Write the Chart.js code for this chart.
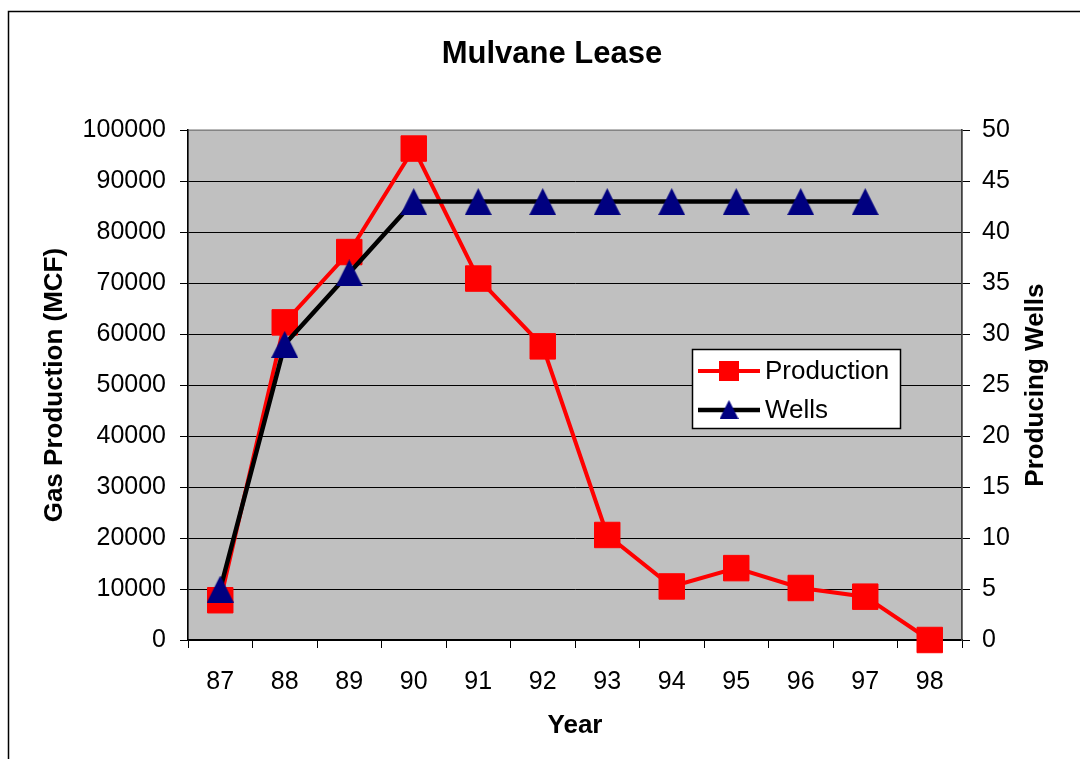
<!DOCTYPE html>
<html>
<head>
<meta charset="utf-8">
<title>Mulvane Lease</title>
<script src="https://cdn.jsdelivr.net/npm/chart.js@4.4.1/dist/chart.umd.min.js"></script>
<style>
  html, body { margin: 0; padding: 0; background: #fff; }
  #wrap { width: 1080px; height: 759px; }
</style>
</head>
<body>
<div id="wrap"><canvas id="lease-chart" width="1080" height="759"></canvas></div>
<script>
// values
const years = ['87', '88', '89', '90', '91', '92', '93', '94', '95', '96', '97', '98'];
const productionMCF = [7800, 62300, 76100, 96400, 70900, 57600, 20600, 10500, 14100, 10200, 8500, 0];
const producingWells = [5, 29, 36, 43, 43, 43, 43, 43, 43, 43, 43, null];

const gasMax = 100000, gasStep = 10000;
const wellsMax = 50, wellsStep = 5;

const chartTitle = 'Mulvane Lease';
const leftTitle = 'Gas Production (MCF)';
const rightTitle = 'Producing Wells';
const xTitle = 'Year';

const FONT = "'Liberation Sans', Arial, Helvetica, sans-serif";
Chart.defaults.font.family = FONT;
Chart.defaults.color = '#000';

// navy triangle marker, centred on the point (the built-in one sits high)
function triangleMarker(size) {
  const c = document.createElement('canvas');
  c.width = size;
  c.height = size;
  const g = c.getContext('2d');
  g.fillStyle = '#000080';
  g.beginPath();
  g.moveTo(size / 2, 0);
  g.lineTo(size, size);
  g.lineTo(0, size);
  g.closePath();
  g.fill();
  return c;
}
const triBig = triangleMarker(27);
const triSmall = triangleMarker(19);

// white page, outer frame, grey plot area
const frame = {
  id: 'frame',
  beforeDraw(chart) {
    const { ctx, chartArea: a } = chart;
    ctx.save();
    ctx.fillStyle = '#fff';
    ctx.fillRect(0, 0, chart.width, chart.height);
    ctx.strokeStyle = '#000';
    ctx.lineWidth = 1.5;
    ctx.strokeRect(8.5, 11.5, 1200, 900);
    ctx.fillStyle = '#c0c0c0';
    ctx.fillRect(a.left, a.top, a.right - a.left, a.bottom - a.top);
    ctx.strokeStyle = '#808080';
    ctx.lineWidth = 1.5;
    ctx.strokeRect(a.left, a.top, a.right - a.left, a.bottom - a.top);
    ctx.restore();
  },
  afterDraw(chart) {
    // right axis title reads bottom to top, like the left one
    const { ctx, chartArea: a } = chart;
    ctx.save();
    ctx.translate(1036, (a.top + a.bottom) / 2);
    ctx.rotate(-Math.PI / 2);
    ctx.font = 'bold 26px ' + FONT;
    ctx.fillStyle = '#000';
    ctx.textAlign = 'center';
    ctx.textBaseline = 'middle';
    ctx.fillText(rightTitle, 0, 0);
    ctx.restore();
  }
};

// boxed legend with line + marker samples
const legendPanel = {
  id: 'legendPanel',
  afterDatasetsDraw(chart) {
    const ctx = chart.ctx;
    const bx = 692, by = 349, bw = 208, bh = 79;
    ctx.save();
    ctx.fillStyle = '#fff';
    ctx.fillRect(bx, by, bw, bh);
    ctx.strokeStyle = '#000';
    ctx.lineWidth = 1.5;
    ctx.strokeRect(bx + 0.5, by + 0.5, bw, bh);
    chart.data.datasets.forEach((ds, i) => {
      const cy = by + 22 + i * 39;
      ctx.strokeStyle = ds.borderColor;
      ctx.lineWidth = ds.borderWidth;
      ctx.beginPath();
      ctx.moveTo(698, cy);
      ctx.lineTo(760, cy);
      ctx.stroke();
      if (ds.pointStyle === 'rect') {
        ctx.fillStyle = ds.pointBackgroundColor;
        ctx.fillRect(719, cy - 10, 20, 20);
      } else {
        ctx.drawImage(triSmall, 729 - 9.5, cy - 10);
      }
      ctx.fillStyle = '#000';
      ctx.font = '26px ' + FONT;
      ctx.textAlign = 'left';
      ctx.textBaseline = 'middle';
      ctx.fillText(ds.label, 765, cy + 1);
    });
    ctx.restore();
  }
};

const plainNumber = v => String(v);

new Chart(document.getElementById('lease-chart'), {
  type: 'line',
  data: {
    labels: years,
    datasets: [
      {
        label: 'Production',
        data: productionMCF,
        yAxisID: 'y',
        order: 2,
        borderColor: '#ff0000',
        borderWidth: 4,
        pointStyle: 'rect',
        pointRadius: 18,
        pointBackgroundColor: '#ff0000',
        pointBorderColor: '#ff0000',
        pointBorderWidth: 1,
        tension: 0,
        clip: false
      },
      {
        label: 'Wells',
        data: producingWells,
        yAxisID: 'y1',
        order: 1,
        borderColor: '#000000',
        borderWidth: 4.5,
        pointStyle: triBig,
        pointRadius: 14,
        pointBackgroundColor: '#000080',
        pointBorderColor: '#000080',
        tension: 0,
        clip: false
      }
    ]
  },
  options: {
    responsive: false,
    animation: false,
    layout: { padding: { left: 24, right: 0, top: 0, bottom: 0 } },
    plugins: {
      legend: { display: false },
      tooltip: { enabled: false },
      title: {
        display: true,
        text: chartTitle,
        color: '#000',
        font: { size: 31, weight: 'bold' },
        padding: { top: 36, bottom: 57 }
      }
    },
    scales: {
      x: {
        type: 'category',
        offset: true,
        afterFit(s) { s.height = 119; },
        grid: { offset: true, drawOnChartArea: false, drawTicks: true, tickLength: 8, tickColor: '#000' },
        border: { display: true, color: '#000', width: 1.5 },
        ticks: { font: { size: 25 }, padding: 19, maxRotation: 0, autoSkip: false, color: '#000' },
        title: { display: true, text: xTitle, font: { size: 26, weight: 'bold' }, padding: { top: 0, bottom: 18 } }
      },
      y: {
        position: 'left',
        min: 0,
        max: gasMax,
        afterFit(s) { s.width = 164; },
        grid: {
          color: c => (c.tick && c.tick.value === gasMax ? 'rgba(0,0,0,0)' : '#000'),
          lineWidth: 1,
          tickLength: 8,
          tickColor: '#000'
        },
        border: { display: true, color: '#000', width: 1.5 },
        ticks: { stepSize: gasStep, font: { size: 25 }, padding: 14, color: '#000', callback: plainNumber },
        title: { display: true, text: leftTitle, font: { size: 26, weight: 'bold' }, padding: { top: 15, bottom: 11 } }
      },
      y1: {
        position: 'right',
        min: 0,
        max: wellsMax,
        afterFit(s) { s.width = 118; },
        grid: { drawOnChartArea: false, tickLength: 8, tickColor: '#000' },
        border: { display: true, color: '#404040', width: 1.5 },
        ticks: { stepSize: wellsStep, font: { size: 25 }, padding: 12, color: '#000', callback: plainNumber }
      }
    }
  },
  plugins: [frame, legendPanel]
});
</script>
</body>
</html>
